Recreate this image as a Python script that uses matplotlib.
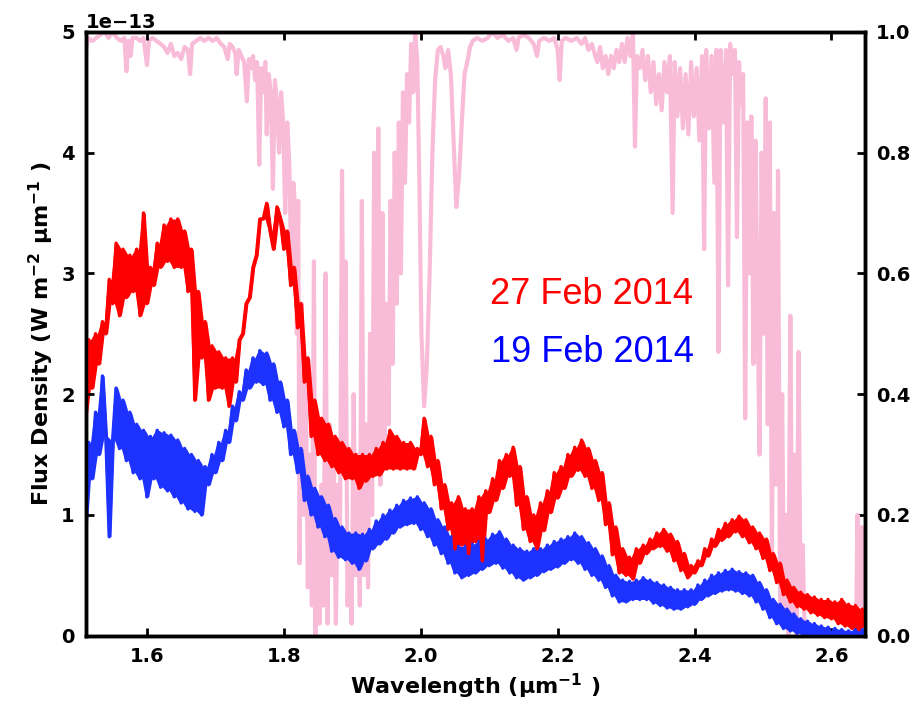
import numpy as np
import matplotlib
matplotlib.use("Agg")
import matplotlib.pyplot as plt

# Spectra sampled every 0.005 um from 1.510 to 2.650 (values in 1e-13 W m-2 um-1).
# Values alternate low/high to follow the width of the noisy trace.
red_flux = [
    1.80, 2.45, 2.05, 2.50, 2.25, 2.60, 2.50, 2.95, 2.75, 3.25,
    2.65, 3.20, 2.80, 3.15, 2.85, 3.20, 2.65, 3.50, 2.75, 3.05,
    2.90, 3.25, 3.05, 3.40, 3.10, 3.45, 3.05, 3.45, 3.05, 3.35,
    2.85, 3.20, 1.95, 2.85, 2.30, 2.60, 1.95, 2.40, 2.05, 2.35,
    2.05, 2.30, 1.90, 2.30, 2.10, 2.45, 2.50, 2.75, 2.80, 3.05,
    3.15, 3.45, 3.45, 3.58, 3.35, 3.20, 3.55, 3.45, 3.20, 3.35,
    2.90, 3.05, 2.55, 2.75, 2.10, 2.30, 1.65, 1.95, 1.50, 1.80,
    1.45, 1.75, 1.40, 1.65, 1.35, 1.60, 1.30, 1.55, 1.30, 1.50,
    1.22, 1.50, 1.28, 1.50, 1.32, 1.55, 1.33, 1.60, 1.38, 1.70,
    1.38, 1.65, 1.38, 1.60, 1.38, 1.60, 1.38, 1.55, 1.50, 1.80,
    1.40, 1.65, 1.25, 1.45, 1.05, 1.25, 0.88, 1.10, 0.72, 1.15,
    0.75, 1.05, 0.68, 1.05, 0.78, 1.15, 0.62, 1.20, 1.02, 1.30,
    1.12, 1.45, 1.22, 1.50, 1.32, 1.56, 1.08, 1.40, 0.88, 1.15,
    0.78, 1.00, 0.72, 1.10, 0.87, 1.20, 1.02, 1.35, 1.14, 1.40,
    1.22, 1.50, 1.32, 1.56, 1.37, 1.62, 1.32, 1.55, 1.22, 1.45,
    1.12, 1.35, 0.92, 1.10, 0.67, 0.90, 0.52, 0.72, 0.50, 0.65,
    0.47, 0.72, 0.60, 0.75, 0.68, 0.80, 0.72, 0.85, 0.74, 0.88,
    0.70, 0.84, 0.62, 0.78, 0.54, 0.68, 0.48, 0.58, 0.52, 0.62,
    0.58, 0.72, 0.66, 0.80, 0.74, 0.88, 0.79, 0.93, 0.82, 0.96,
    0.86, 0.99, 0.82, 0.96, 0.77, 0.90, 0.72, 0.85, 0.64, 0.80,
    0.54, 0.68, 0.44, 0.60, 0.34, 0.46, 0.28, 0.40, 0.24, 0.36,
    0.22, 0.34, 0.19, 0.32, 0.17, 0.30, 0.15, 0.30, 0.14, 0.28,
    0.10, 0.30, 0.08, 0.26, 0.06, 0.25, 0.05, 0.22, 0.08,
]

blue_flux = [
    0.88, 1.60, 1.30, 1.85, 1.50, 2.15, 1.65, 0.82, 1.62, 2.05,
    1.55, 1.95, 1.45, 1.85, 1.35, 1.75, 1.30, 1.70, 1.15, 1.65,
    1.30, 1.70, 1.23, 1.68, 1.20, 1.66, 1.15, 1.62, 1.10, 1.55,
    1.05, 1.50, 1.03, 1.45, 1.00, 1.40, 1.25, 1.50, 1.35, 1.60,
    1.45, 1.70, 1.60, 1.90, 1.78, 2.02, 1.95, 2.20, 2.05, 2.30,
    2.10, 2.36, 2.08, 2.34, 1.95, 2.25, 1.85, 2.10, 1.73, 1.95,
    1.50, 1.70, 1.35, 1.55, 1.12, 1.32, 1.00, 1.22, 0.90, 1.15,
    0.82, 1.08, 0.70, 0.97, 0.65, 0.90, 0.63, 0.85, 0.60, 0.85,
    0.55, 0.84, 0.62, 0.88, 0.72, 0.95, 0.76, 1.00, 0.80, 1.04,
    0.85, 1.08, 0.90, 1.12, 0.92, 1.14, 0.93, 1.15, 0.88, 1.10,
    0.82, 1.05, 0.75, 0.96, 0.68, 0.90, 0.60, 0.82, 0.52, 0.74,
    0.48, 0.74, 0.50, 0.76, 0.52, 0.78, 0.55, 0.80, 0.58, 0.84,
    0.60, 0.86, 0.56, 0.80, 0.52, 0.75, 0.48, 0.72, 0.46, 0.70,
    0.48, 0.72, 0.50, 0.72, 0.53, 0.75, 0.55, 0.78, 0.57, 0.80,
    0.60, 0.82, 0.63, 0.85, 0.60, 0.82, 0.55, 0.77, 0.50, 0.72,
    0.46, 0.66, 0.40, 0.58, 0.33, 0.50, 0.28, 0.46, 0.28, 0.45,
    0.30, 0.46, 0.30, 0.48, 0.30, 0.46, 0.27, 0.44, 0.25, 0.42,
    0.23, 0.40, 0.22, 0.38, 0.22, 0.38, 0.24, 0.38, 0.26, 0.42,
    0.30, 0.46, 0.33, 0.50, 0.35, 0.52, 0.37, 0.54, 0.38, 0.55,
    0.37, 0.53, 0.35, 0.52, 0.33, 0.50, 0.28, 0.44, 0.22, 0.38,
    0.15, 0.30, 0.10, 0.26, 0.06, 0.22, 0.04, 0.18, 0.02, 0.14,
    0.00, 0.12, 0.00, 0.10, 0.00, 0.08, 0.00, 0.07, 0.00, 0.06,
    0.00, 0.05, 0.00, 0.04, 0.00, 0.05, 0.00, 0.05, 0.02,
]

# Telluric transmission (right axis), irregular sampling
telluric_wl = [
    1.511, 1.514, 1.520, 1.526, 1.532, 1.538, 1.544, 1.550, 1.556, 1.562,
    1.567, 1.570, 1.573, 1.576, 1.579, 1.585, 1.590, 1.595, 1.600, 1.603,
    1.608, 1.614, 1.620, 1.625, 1.630, 1.635, 1.640, 1.645, 1.650, 1.655,
    1.660, 1.663, 1.666, 1.672, 1.678, 1.684, 1.690, 1.696, 1.702, 1.708,
    1.713, 1.718, 1.721, 1.725, 1.729, 1.731, 1.734, 1.738, 1.742, 1.746,
    1.749, 1.752, 1.755, 1.758, 1.761, 1.764, 1.767, 1.770, 1.773, 1.775,
    1.778, 1.781, 1.784, 1.787, 1.790, 1.793, 1.796, 1.799, 1.802, 1.805,
    1.808, 1.811, 1.814, 1.817, 1.819, 1.821, 1.823, 1.826, 1.829, 1.832,
    1.835, 1.838, 1.841, 1.844, 1.846, 1.849, 1.852, 1.855, 1.858, 1.861,
    1.864, 1.867, 1.870, 1.873, 1.876, 1.879, 1.882, 1.885, 1.888, 1.890,
    1.893, 1.896, 1.899, 1.902, 1.905, 1.908, 1.911, 1.914, 1.917, 1.920,
    1.923, 1.926, 1.929, 1.932, 1.935, 1.938, 1.941, 1.944, 1.947, 1.950,
    1.953, 1.956, 1.959, 1.962, 1.965, 1.968, 1.971, 1.974, 1.977, 1.980,
    1.983, 1.986, 1.989, 1.992, 1.995, 1.998, 2.001, 2.005, 2.009, 2.013,
    2.017, 2.021, 2.025, 2.029, 2.033, 2.036, 2.040, 2.044, 2.048, 2.052,
    2.056, 2.060, 2.064, 2.068, 2.072, 2.076, 2.082, 2.090, 2.098, 2.105,
    2.112, 2.120, 2.128, 2.135, 2.140, 2.143, 2.150, 2.158, 2.165, 2.170,
    2.173, 2.180, 2.188, 2.195, 2.200, 2.203, 2.206, 2.212, 2.220, 2.228,
    2.235, 2.240, 2.245, 2.250, 2.255, 2.258, 2.262, 2.266, 2.270, 2.274,
    2.278, 2.282, 2.286, 2.290, 2.294, 2.298, 2.302, 2.306, 2.310, 2.313,
    2.316, 2.320, 2.324, 2.328, 2.332, 2.336, 2.340, 2.344, 2.348, 2.352,
    2.356, 2.360, 2.364, 2.368, 2.371, 2.375, 2.379, 2.383, 2.387, 2.391,
    2.395, 2.399, 2.403, 2.407, 2.411, 2.414, 2.417, 2.421, 2.425, 2.429,
    2.432, 2.435, 2.438, 2.442, 2.446, 2.449, 2.452, 2.456, 2.459, 2.462,
    2.465, 2.468, 2.471, 2.474, 2.477, 2.480, 2.483, 2.486, 2.489, 2.492,
    2.495, 2.498, 2.501, 2.504, 2.507, 2.510, 2.513, 2.516, 2.519, 2.522,
    2.525, 2.528, 2.531, 2.534, 2.537, 2.540, 2.543, 2.546, 2.549, 2.552,
    2.555, 2.558, 2.561, 2.590, 2.620, 2.636, 2.638, 2.641, 2.644, 2.647,
    2.650,
]
telluric_tr = [
    0.97, 0.99, 0.985, 0.99, 0.995, 1.0, 0.99, 1.0, 0.99, 0.985,
    0.99, 0.935, 0.985, 0.96, 0.99, 0.99, 0.985, 0.99, 0.945, 0.985,
    0.99, 0.985, 0.98, 0.975, 0.965, 0.98, 0.96, 0.965, 0.955, 0.975,
    0.97, 0.93, 0.98, 0.985, 0.99, 0.985, 0.99, 0.985, 0.99, 0.98,
    0.975, 0.955, 0.98, 0.975, 0.965, 0.93, 0.97, 0.96, 0.95, 0.885,
    0.955, 0.94, 0.96, 0.92, 0.95, 0.78, 0.94, 0.90, 0.95, 0.83,
    0.93, 0.90, 0.74, 0.92, 0.88, 0.80, 0.90, 0.85, 0.70, 0.85,
    0.78, 0.60, 0.75, 0.70, 0.50, 0.72, 0.12, 0.55, 0.20, 0.45,
    0.08, 0.30, 0.05, 0.62, 0.00, 0.20, 0.02, 0.25, 0.05, 0.60,
    0.02, 0.35, 0.10, 0.30, 0.02, 0.25, 0.15, 0.77, 0.30, 0.62,
    0.05, 0.15, 0.02, 0.40, 0.10, 0.30, 0.05, 0.72, 0.10, 0.35,
    0.08, 0.50, 0.20, 0.80, 0.30, 0.84, 0.25, 0.70, 0.30, 0.55,
    0.35, 0.72, 0.45, 0.80, 0.55, 0.85, 0.60, 0.90, 0.75, 0.93,
    0.85, 0.98, 0.90, 1.0, 0.95, 0.75, 0.50, 0.38, 0.45, 0.60,
    0.80, 0.92, 0.97, 0.975, 0.96, 0.94, 0.97, 0.93, 0.82, 0.71,
    0.76, 0.85, 0.93, 0.95, 0.975, 0.985, 0.99, 0.985, 0.99, 1.0,
    0.99, 0.995, 0.985, 0.99, 0.97, 0.99, 0.995, 0.99, 0.98, 0.96,
    0.985, 0.99, 0.985, 0.99, 0.97, 0.92, 0.985, 0.99, 0.985, 0.99,
    0.98, 0.99, 0.97, 0.98, 0.96, 0.95, 0.975, 0.94, 0.96, 0.93,
    0.96, 0.94, 0.97, 0.95, 0.98, 0.95, 0.99, 0.96, 1.0, 0.81,
    0.96, 0.94, 0.97, 0.92, 0.96, 0.90, 0.95, 0.88, 0.93, 0.87,
    0.95, 0.90, 0.96, 0.70, 0.95, 0.86, 0.94, 0.84, 0.93, 0.83,
    0.95, 0.86, 0.94, 0.82, 0.96, 0.64, 0.97, 0.84, 0.96, 0.75,
    0.97, 0.47, 0.97, 0.85, 0.97, 0.58, 0.98, 0.93, 0.97, 0.66,
    0.95, 0.88, 0.93, 0.36, 0.85, 0.60, 0.86, 0.45, 0.82, 0.55,
    0.30, 0.80, 0.50, 0.89, 0.35, 0.85, 0.12, 0.70, 0.25, 0.77,
    0.05, 0.40, 0.02, 0.20, 0.00, 0.53, 0.03, 0.30, 0.00, 0.47,
    0.05, 0.15, 0.00, 0.00, 0.00, 0.00, 0.20, 0.05, 0.18, 0.00,
    0.00,
]


def draw_spectrum(ax, wl, flux, colour):
    """Solid band between neighbouring samples plus the jagged trace."""
    v = np.asarray(flux) * 1e-13
    mid = (wl[:-1] + wl[1:]) / 2
    ax.fill_between(mid, np.minimum(v[:-1], v[1:]), np.maximum(v[:-1], v[1:]),
                    color=colour, linewidth=0)
    ax.plot(wl, v, color=colour, linewidth=2.5)


plt.rcParams['font.family'] = ['DejaVu Sans']
plt.rcParams['font.weight'] = 'bold'
plt.rcParams['mathtext.default'] = 'bf'

fig = plt.figure(figsize=(9.19, 7.03), dpi=100)
ax = fig.add_axes([0.0936, 0.0957, 0.8476, 0.859])
ax2 = ax.twinx()

# keep the telluric trace behind the spectra
ax.set_zorder(ax2.get_zorder() + 1)
ax.patch.set_visible(False)

wl = np.linspace(1.51, 2.65, len(red_flux))
ax2.plot(telluric_wl, telluric_tr, color='#f9bcd8', linewidth=3)
draw_spectrum(ax, wl, blue_flux, '#1e32ff')
draw_spectrum(ax, wl, red_flux, '#ff0000')

ax.set_xlim(1.511, 2.649)
ax.set_ylim(0, 5e-13)
ax2.set_ylim(0, 1.0)
ax.set_xticks([1.6, 1.8, 2.0, 2.2, 2.4, 2.6])
ax.set_yticks([0, 1e-13, 2e-13, 3e-13, 4e-13, 5e-13])
ax2.set_yticks([0.0, 0.2, 0.4, 0.6, 0.8, 1.0])
ax2.set_yticklabels(['0.0', '0.2', '0.4', '0.6', '0.8', '1.0'])

for a in (ax, ax2):
    for s in a.spines.values():
        s.set_linewidth(2.5)
ax.tick_params(axis='both', direction='in', length=6, width=2,
               labelsize=14, pad=8, top=True)
ax2.tick_params(axis='y', direction='in', length=6, width=2,
                labelsize=14, pad=8)
ax.yaxis.get_offset_text().set_fontsize(14)
ax.yaxis.get_offset_text().set_fontweight('bold')

ax.set_xlabel('Wavelength (\u03bcm$^{-1}$ )', fontsize=16, fontweight='bold',
              labelpad=4)
ax.set_ylabel('Flux Density (W m$^{-2}$ \u03bcm$^{-1}$ )', fontsize=16,
              fontweight='bold')

ax.text(2.101, 2.75e-13, '27 Feb 2014', color='#ff0000', fontsize=26,
        fontweight='normal', family='Liberation Sans', va='baseline')
ax.text(2.103, 2.27e-13, '19 Feb 2014', color='#0000ff', fontsize=26,
        fontweight='normal', family='Liberation Sans', va='baseline')

fig.savefig('out.png', dpi=100)
